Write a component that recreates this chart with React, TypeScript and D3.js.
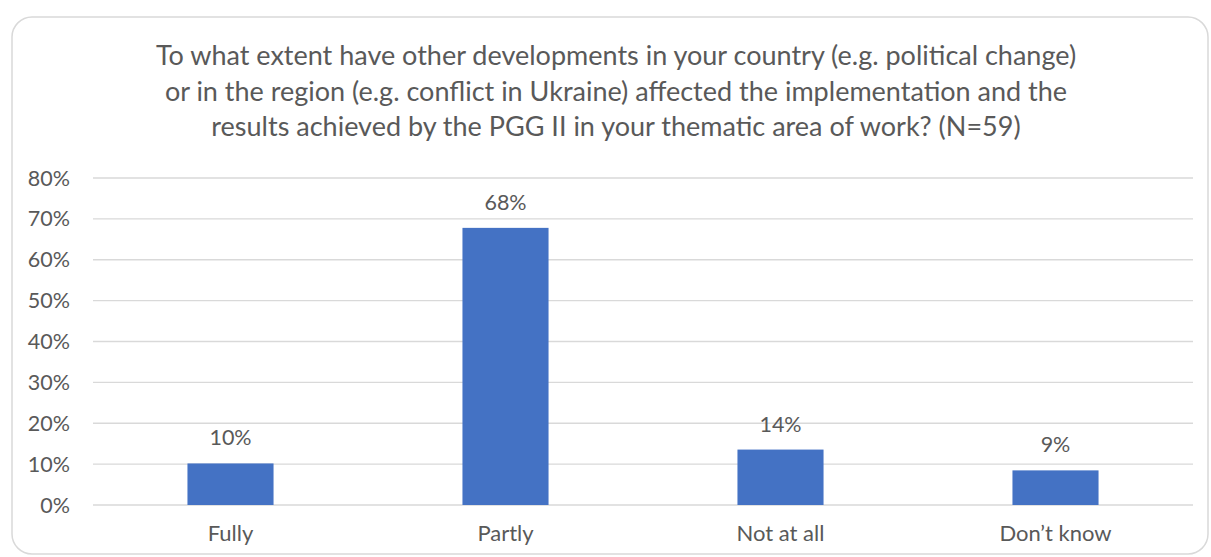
import React from "react";
import * as d3 from "d3";

const categories = ["Fully", "Partly", "Not at all", "Don\u2019t know"];
const values = [10.17, 67.8, 13.56, 8.47];
const valueLabels = ["10%", "68%", "14%", "9%"];
const yTicks = [0, 10, 20, 30, 40, 50, 60, 70, 80];
const titleLines = [
  "To what extent have other developments in your country (e.g. political change)",
  "or in the region (e.g. conflict in Ukraine) affected the implementation and the",
  "results achieved by the PGG II in your thematic area of work? (N=59)",
];

const W = 1211;
const H = 557;
const FONT = "Lato, 'Open Sans', sans-serif";
const TEXT = "#595959";

export default function App() {
  const left = 93;
  const right = 1193;
  const top = 178;
  const bottom = 505;

  const x = d3.scaleBand<string>().domain(categories).range([left, right]).paddingInner(0.687).paddingOuter(0.3435);
  const y = d3.scaleLinear().domain([0, 80]).range([bottom, top]);

  return (
    <svg
      width={W}
      height={H}
      style={{ position: "absolute", left: 0, top: 0, background: "#fff" }}
    >
      <rect x={12} y={17} width={1196} height={537} rx={20} ry={20} fill="#fff" stroke="#d9d9d9" strokeWidth={1.5} />
      {titleLines.map((t, i) => (
        <text key={i} x={616} y={65 + i * 35.5} textAnchor="middle" fontFamily={FONT} fontSize={27} fill={TEXT}>
          {t}
        </text>
      ))}
      {yTicks.map((t) => (
        <g key={t}>
          <line x1={left} x2={right} y1={y(t)} y2={y(t)} stroke="#d9d9d9" strokeWidth={1.3} />
          <text x={70} y={y(t)} dy="0.35em" textAnchor="end" fontFamily={FONT} fontSize={21.5} fill={TEXT}>
            {t}%
          </text>
        </g>
      ))}
      {categories.map((c, i) => {
        const bx = x(c)!;
        const bw = x.bandwidth();
        return (
          <g key={c}>
            <rect x={bx} y={y(values[i])} width={bw} height={y(0) - y(values[i])} fill="#4472c4" />
            <text x={bx + bw / 2} y={y(values[i]) - 18} textAnchor="middle" fontFamily={FONT} fontSize={21.5} fill={TEXT}>
              {valueLabels[i]}
            </text>
            <text x={bx + bw / 2} y={541} textAnchor="middle" fontFamily={FONT} fontSize={22} fill={TEXT}>
              {c}
            </text>
          </g>
        );
      })}
    </svg>
  );
}
